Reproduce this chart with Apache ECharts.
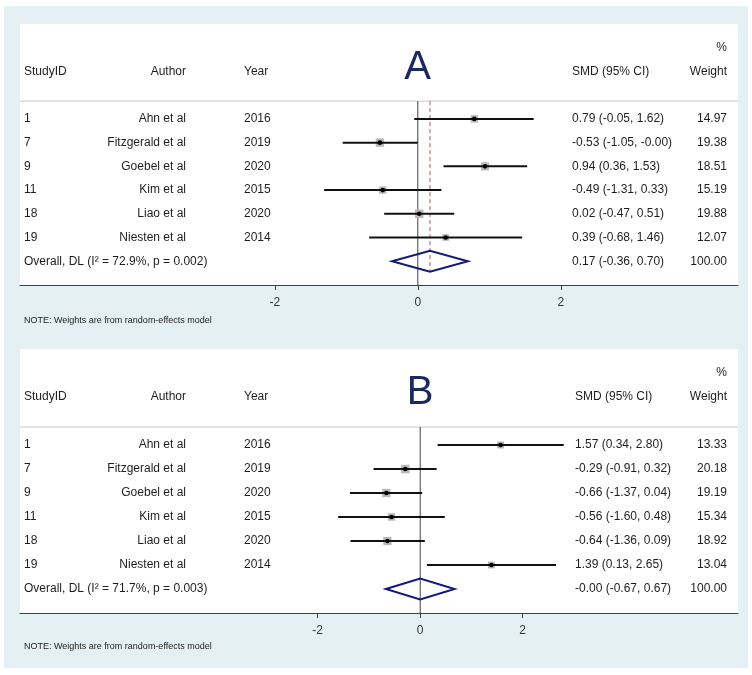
<!DOCTYPE html>
<html><head><meta charset="utf-8">
<script src="https://cdn.jsdelivr.net/npm/echarts@6/dist/echarts.min.js"></script>
<style>html,body{margin:0;padding:0;background:#fff}#c{width:752px;height:675px}</style>
</head><body><div id="c"></div>
<script>
// ---- data ----
const studyIds = ['1', '7', '9', '11', '18', '19'];
const authors = ['Ahn et al', 'Fitzgerald et al', 'Goebel et al', 'Kim et al', 'Liao et al', 'Niesten et al'];
const years = ['2016', '2019', '2020', '2015', '2020', '2014'];

const smdA = [0.79, -0.53, 0.94, -0.49, 0.02, 0.39];
const lowA = [-0.05, -1.05, 0.36, -1.31, -0.47, -0.68];
const highA = [1.62, -0.00, 1.53, 0.33, 0.51, 1.46];
const weightA = [14.97, 19.38, 18.51, 15.19, 19.88, 12.07];
const overallA = [0.17, -0.36, 0.70];
const hetA = ['72.9%', '0.002'];

const smdB = [1.57, -0.29, -0.66, -0.56, -0.64, 1.39];
const lowB = [0.34, -0.91, -1.37, -1.60, -1.36, 0.13];
const highB = [2.80, 0.32, 0.04, 0.48, 0.09, 2.65];
const weightB = [13.33, 20.18, 19.19, 15.34, 18.92, 13.04];
const overallB = [-0.00, -0.67, 0.67];
const hetB = ['71.7%', '0.003'];

const xTicks = [-2, 0, 2];
const headers = ['StudyID', 'Author', 'Year', 'SMD (95% CI)', 'Weight', '%'];
const panelLetters = ['A', 'B'];
const noteText = 'NOTE: Weights are from random-effects model';

// ---- style ----
const FONT = '"Liberation Sans", Arial, sans-serif';
const TXT = '#1e1e1e';

function fmt(v) {
  return ((v < 0 || Object.is(v, -0)) ? '-' : '') + Math.abs(v).toFixed(2);
}

const chart = echarts.init(document.getElementById('c'), null, {renderer: 'canvas'});

function buildPanel(pi, smd, low, high, weight, overall, het, smdX) {
  const series = [];
  const OV = smd.length; // overall row index
  // frame: separator, zero line, overall dashed line
  series.push({
    type: 'custom', xAxisIndex: pi, yAxisIndex: pi, z: 1, silent: true,
    data: [[overall[0]]],
    renderItem: function (params, api) {
      const cs = params.coordSys;
      const ySep = api.coord([0, -0.75])[1];
      const yAx = api.coord([0, OV + 1])[1];
      const x0 = api.coord([0, 0])[0];
      const xo = api.coord([api.value(0), 0])[0];
      const yOvB = api.coord([0, OV + 0.44])[1];
      const kids = [
        {type: 'line', shape: {x1: cs.x, y1: ySep, x2: cs.x + cs.width, y2: ySep},
          style: {stroke: '#c9c9c9', lineWidth: 1}}
      ];
      if (Math.abs(xo - x0) > 1) {
        kids.push({type: 'line', shape: {x1: xo, y1: ySep, x2: xo, y2: yOvB},
          style: {stroke: '#c0505a', lineWidth: 1, lineDash: [4, 3]}});
      }
      kids.push({type: 'line', shape: {x1: x0, y1: ySep, x2: x0, y2: yAx},
          style: {stroke: '#404040', lineWidth: 1}});
      return {type: 'group', children: kids};
    }
  });
  // studies
  series.push({
    type: 'custom', xAxisIndex: pi, yAxisIndex: pi, z: 3, silent: true,
    data: smd.map((v, i) => [i, v, low[i], high[i], weight[i]]),
    renderItem: function (params, api) {
      const r = api.value(0);
      const c = api.coord([api.value(1), r]);
      const l = api.coord([api.value(2), r]);
      const h = api.coord([api.value(3), r]);
      const s = 8.5 * Math.sqrt(api.value(4) / 20);
      return {type: 'group', children: [
        {type: 'rect', shape: {x: c[0] - s / 2, y: c[1] - s / 2, width: s, height: s},
          style: {fill: '#b9b9b9'}},
        {type: 'line', shape: {x1: l[0], y1: c[1], x2: h[0], y2: c[1]},
          style: {stroke: '#111', lineWidth: 2}},
        {type: 'circle', shape: {cx: c[0], cy: c[1], r: 2.3}, style: {fill: '#000'}}
      ]};
    }
  });
  // overall diamond
  series.push({
    type: 'custom', xAxisIndex: pi, yAxisIndex: pi, z: 4, silent: true,
    data: [[OV, overall[0], overall[1], overall[2]]],
    renderItem: function (params, api) {
      const r = api.value(0);
      const pts = [
        api.coord([api.value(2), r]),
        api.coord([api.value(1), r - 0.44]),
        api.coord([api.value(3), r]),
        api.coord([api.value(1), r + 0.44])
      ];
      return {type: 'polygon', shape: {points: pts},
        style: {fill: 'none', stroke: '#141a7a', lineWidth: 2}};
    }
  });
  // text table
  const rows = [];
  rows.push({row: -3, cells: [['', 'left'], ['', 'right'], ['', 'left'], ['', 'left'], [headers[5], 'right']]});
  rows.push({row: -2, cells: [[headers[0], 'left'], [headers[1], 'right'], [headers[2], 'left'], [headers[3], 'left'], [headers[4], 'right']]});
  smd.forEach((v, i) => {
    rows.push({row: i, cells: [[studyIds[i], 'left'], [authors[i], 'right'], [years[i], 'left'],
      [fmt(v) + ' (' + fmt(low[i]) + ', ' + fmt(high[i]) + ')', 'left'], [weight[i].toFixed(2), 'right']]});
  });
  rows.push({row: OV, cells: [['Overall, DL (I\u00B2 = ' + het[0] + ', p = ' + het[1] + ')', 'left'], ['', 'right'], ['', 'left'],
    [fmt(overall[0]) + ' (' + fmt(overall[1]) + ', ' + fmt(overall[2]) + ')', 'left'], ['100.00', 'right']]});
  const colX = [4, 166, 224, smdX, 707];
  series.push({
    type: 'custom', xAxisIndex: pi, yAxisIndex: pi, z: 5, silent: true,
    data: rows.map((r, k) => [0, r.row, k]),
    renderItem: function (params, api) {
      const cs = params.coordSys;
      const row = rows[api.value(2)];
      const y = api.coord([0, api.value(1)])[1];
      const kids = [];
      row.cells.forEach((c, j) => {
        if (c[0] === '') return;
        kids.push({type: 'text',
          style: {text: c[0], x: cs.x + colX[j], y: y, align: c[1], verticalAlign: 'middle',
            fill: TXT, font: '12px ' + FONT}});
      });
      return {type: 'group', children: kids};
    }
  });
  return series;
}

const option = {
  animation: false,
  backgroundColor: '#ffffff',
  graphic: [
    {type: 'rect', shape: {x: 4, y: 6, width: 744, height: 662}, style: {fill: '#e5f0f4'}, z: -10},
    {type: 'text', style: {text: panelLetters[0], x: 417.5, y: 67.5, align: 'center', verticalAlign: 'middle',
      font: '40px ' + FONT, fill: '#1b2a5e'}, z: 10},
    {type: 'text', style: {text: panelLetters[1], x: 420, y: 393, align: 'center', verticalAlign: 'middle',
      font: '40px ' + FONT, fill: '#1b2a5e'}, z: 10},
    {type: 'text', style: {text: noteText, x: 24, y: 321, verticalAlign: 'middle',
      font: '9px ' + FONT, fill: '#222'}, z: 10},
    {type: 'text', style: {text: noteText, x: 24, y: 647, verticalAlign: 'middle',
      font: '9px ' + FONT, fill: '#222'}, z: 10}
  ],
  grid: [
    {left: 20, top: 24, width: 718, height: 261, show: true, backgroundColor: '#ffffff', borderWidth: 0},
    {left: 20, top: 349, width: 718, height: 264, show: true, backgroundColor: '#ffffff', borderWidth: 0}
  ],
  xAxis: [0, 1].map(i => ({
    type: 'value', gridIndex: i,
    min: i === 0 ? -5.5636 : -7.809,
    max: i === 0 ? 4.4783 : 6.201,
    axisLine: {show: true, onZero: false, lineStyle: {color: '#404040', width: 1}},
    axisTick: {show: true, customValues: xTicks, length: 5, lineStyle: {color: '#404040'}},
    axisLabel: {show: true, customValues: xTicks, margin: 12, color: '#333', fontSize: 12, fontFamily: FONT,
      formatter: v => String(v)},
    splitLine: {show: false}
  })),
  yAxis: [0, 1].map(i => ({
    type: 'value', gridIndex: i, min: -4, max: 7, inverse: true, show: false
  })),
  series: [].concat(
    buildPanel(0, smdA, lowA, highA, weightA, overallA, hetA, 552),
    buildPanel(1, smdB, lowB, highB, weightB, overallB, hetB, 555)
  )
};
chart.setOption(option);
</script></body></html>
